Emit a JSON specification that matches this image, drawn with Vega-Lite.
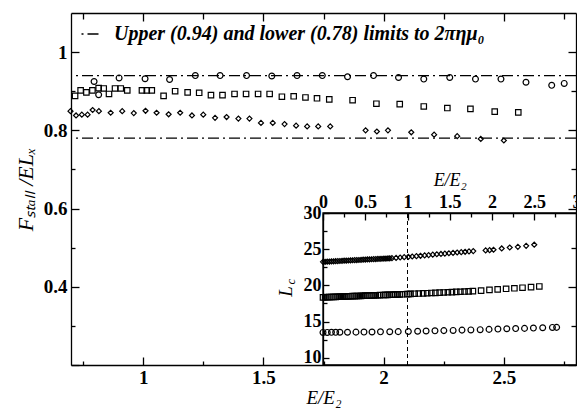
{
  "$schema": "https://vega.github.io/schema/vega-lite/v6.json",
  "width": 505,
  "height": 352,
  "autosize": {"type": "none"},
  "padding": {"left": 71, "top": 13, "right": 1, "bottom": 44},
  "background": "white",
  "config": {"view": {"stroke": null}, "font": "Liberation Serif"},
  "datasets": {
    "limits": [
      {"F": 0.94, "lab": "Upper (0.94) and lower (0.78) limits to 2πημ₀"},
      {"F": 0.78, "lab": "Upper (0.94) and lower (0.78) limits to 2πημ₀"}
    ],
    "frame": [{"x0": 0, "x1": 3, "y0": 9, "y1": 30, "xm": 1}],
    "main": [
      {"E": 0.796, "F": 0.925, "s": "c"}, {"E": 0.815, "F": 0.891, "s": "c"}, {"E": 0.9, "F": 0.934, "s": "c"},
      {"E": 1.008, "F": 0.932, "s": "c"}, {"E": 1.11, "F": 0.93, "s": "c"}, {"E": 1.217, "F": 0.94, "s": "c"},
      {"E": 1.32, "F": 0.94, "s": "c"}, {"E": 1.43, "F": 0.94, "s": "c"}, {"E": 1.535, "F": 0.939, "s": "c"},
      {"E": 1.64, "F": 0.94, "s": "c"}, {"E": 1.745, "F": 0.94, "s": "c"}, {"E": 1.85, "F": 0.937, "s": "c"},
      {"E": 1.958, "F": 0.94, "s": "c"}, {"E": 2.062, "F": 0.935, "s": "c"}, {"E": 2.167, "F": 0.931, "s": "c"},
      {"E": 2.275, "F": 0.935, "s": "c"}, {"E": 2.382, "F": 0.931, "s": "c"}, {"E": 2.488, "F": 0.931, "s": "c"},
      {"E": 2.592, "F": 0.923, "s": "c"}, {"E": 2.699, "F": 0.915, "s": "c"}, {"E": 2.751, "F": 0.92, "s": "c"},
      {"E": 0.717, "F": 0.888, "s": "s"}, {"E": 0.74, "F": 0.902, "s": "s"}, {"E": 0.764, "F": 0.897, "s": "s"},
      {"E": 0.789, "F": 0.902, "s": "s"}, {"E": 0.815, "F": 0.908, "s": "s"}, {"E": 0.836, "F": 0.907, "s": "s"},
      {"E": 0.858, "F": 0.893, "s": "s"}, {"E": 0.883, "F": 0.907, "s": "s"}, {"E": 0.907, "F": 0.907, "s": "s"},
      {"E": 0.934, "F": 0.902, "s": "s"}, {"E": 0.995, "F": 0.902, "s": "s"}, {"E": 1.015, "F": 0.902, "s": "s"},
      {"E": 1.036, "F": 0.902, "s": "s"}, {"E": 1.085, "F": 0.888, "s": "s"}, {"E": 1.133, "F": 0.9, "s": "s"},
      {"E": 1.185, "F": 0.897, "s": "s"}, {"E": 1.233, "F": 0.896, "s": "s"}, {"E": 1.282, "F": 0.89, "s": "s"},
      {"E": 1.33, "F": 0.89, "s": "s"}, {"E": 1.38, "F": 0.893, "s": "s"}, {"E": 1.428, "F": 0.893, "s": "s"},
      {"E": 1.478, "F": 0.893, "s": "s"}, {"E": 1.526, "F": 0.893, "s": "s"}, {"E": 1.577, "F": 0.886, "s": "s"},
      {"E": 1.626, "F": 0.887, "s": "s"}, {"E": 1.675, "F": 0.884, "s": "s"}, {"E": 1.723, "F": 0.882, "s": "s"},
      {"E": 1.774, "F": 0.879, "s": "s"}, {"E": 1.871, "F": 0.877, "s": "s"}, {"E": 1.97, "F": 0.868, "s": "s"},
      {"E": 2.067, "F": 0.867, "s": "s"}, {"E": 2.167, "F": 0.861, "s": "s"}, {"E": 2.265, "F": 0.857, "s": "s"},
      {"E": 2.361, "F": 0.855, "s": "s"}, {"E": 2.462, "F": 0.848, "s": "s"}, {"E": 2.56, "F": 0.846, "s": "s"},
      {"E": 0.698, "F": 0.849, "s": "d"}, {"E": 0.721, "F": 0.838, "s": "d"}, {"E": 0.745, "F": 0.84, "s": "d"},
      {"E": 0.769, "F": 0.84, "s": "d"}, {"E": 0.79, "F": 0.852, "s": "d"}, {"E": 0.816, "F": 0.849, "s": "d"},
      {"E": 0.865, "F": 0.845, "s": "d"}, {"E": 0.913, "F": 0.849, "s": "d"}, {"E": 0.961, "F": 0.844, "s": "d"},
      {"E": 1.01, "F": 0.85, "s": "d"}, {"E": 1.056, "F": 0.845, "s": "d"}, {"E": 1.106, "F": 0.841, "s": "d"},
      {"E": 1.154, "F": 0.845, "s": "d"}, {"E": 1.203, "F": 0.838, "s": "d"}, {"E": 1.25, "F": 0.84, "s": "d"},
      {"E": 1.299, "F": 0.832, "s": "d"}, {"E": 1.347, "F": 0.834, "s": "d"}, {"E": 1.396, "F": 0.83, "s": "d"},
      {"E": 1.442, "F": 0.83, "s": "d"}, {"E": 1.49, "F": 0.819, "s": "d"}, {"E": 1.539, "F": 0.819, "s": "d"},
      {"E": 1.588, "F": 0.816, "s": "d"}, {"E": 1.636, "F": 0.812, "s": "d"}, {"E": 1.682, "F": 0.81, "s": "d"},
      {"E": 1.728, "F": 0.81, "s": "d"}, {"E": 1.778, "F": 0.81, "s": "d"}, {"E": 1.925, "F": 0.8, "s": "d"},
      {"E": 1.972, "F": 0.797, "s": "d"}, {"E": 2.018, "F": 0.8, "s": "d"}, {"E": 2.115, "F": 0.795, "s": "d"},
      {"E": 2.21, "F": 0.789, "s": "d"}, {"E": 2.306, "F": 0.785, "s": "d"}, {"E": 2.404, "F": 0.778, "s": "d"},
      {"E": 2.5, "F": 0.774, "s": "d"}
    ],
    "inset": [
      {"E": 0, "L": 13.5, "s": "c"}, {"E": 0.05, "L": 13.5, "s": "c"}, {"E": 0.1, "L": 13.51, "s": "c"},
      {"E": 0.15, "L": 13.51, "s": "c"}, {"E": 0.2, "L": 13.52, "s": "c"}, {"E": 0.29, "L": 13.53, "s": "c"},
      {"E": 0.39, "L": 13.54, "s": "c"}, {"E": 0.485, "L": 13.55, "s": "c"}, {"E": 0.58, "L": 13.56, "s": "c"},
      {"E": 0.68, "L": 13.58, "s": "c"}, {"E": 0.79, "L": 13.6, "s": "c"}, {"E": 0.89, "L": 13.61, "s": "c"},
      {"E": 1.01, "L": 13.63, "s": "c"}, {"E": 1.12, "L": 13.66, "s": "c"}, {"E": 1.22, "L": 13.69, "s": "c"},
      {"E": 1.325, "L": 13.72, "s": "c"}, {"E": 1.43, "L": 13.75, "s": "c"}, {"E": 1.54, "L": 13.78, "s": "c"},
      {"E": 1.645, "L": 13.82, "s": "c"}, {"E": 1.75, "L": 13.85, "s": "c"}, {"E": 1.86, "L": 13.88, "s": "c"},
      {"E": 1.965, "L": 13.92, "s": "c"}, {"E": 2.07, "L": 13.96, "s": "c"}, {"E": 2.175, "L": 14.0, "s": "c"},
      {"E": 2.28, "L": 14.03, "s": "c"}, {"E": 2.385, "L": 14.06, "s": "c"}, {"E": 2.49, "L": 14.1, "s": "c"},
      {"E": 2.6, "L": 14.14, "s": "c"}, {"E": 2.715, "L": 14.19, "s": "c"}, {"E": 2.765, "L": 14.2, "s": "c"},
      {"E": 0, "L": 18.35, "s": "s"}, {"E": 0.025, "L": 18.36, "s": "s"}, {"E": 0.05, "L": 18.37, "s": "s"},
      {"E": 0.075, "L": 18.38, "s": "s"}, {"E": 0.1, "L": 18.4, "s": "s"}, {"E": 0.125, "L": 18.41, "s": "s"},
      {"E": 0.15, "L": 18.42, "s": "s"}, {"E": 0.175, "L": 18.43, "s": "s"}, {"E": 0.2, "L": 18.44, "s": "s"},
      {"E": 0.225, "L": 18.45, "s": "s"}, {"E": 0.25, "L": 18.46, "s": "s"}, {"E": 0.275, "L": 18.47, "s": "s"},
      {"E": 0.3, "L": 18.49, "s": "s"}, {"E": 0.325, "L": 18.5, "s": "s"}, {"E": 0.35, "L": 18.51, "s": "s"},
      {"E": 0.375, "L": 18.52, "s": "s"}, {"E": 0.4, "L": 18.53, "s": "s"}, {"E": 0.425, "L": 18.54, "s": "s"},
      {"E": 0.45, "L": 18.55, "s": "s"}, {"E": 0.475, "L": 18.56, "s": "s"}, {"E": 0.5, "L": 18.58, "s": "s"},
      {"E": 0.525, "L": 18.59, "s": "s"}, {"E": 0.55, "L": 18.6, "s": "s"}, {"E": 0.575, "L": 18.61, "s": "s"},
      {"E": 0.6, "L": 18.62, "s": "s"}, {"E": 0.625, "L": 18.63, "s": "s"}, {"E": 0.65, "L": 18.64, "s": "s"},
      {"E": 0.675, "L": 18.65, "s": "s"}, {"E": 0.717, "L": 18.67, "s": "s"}, {"E": 0.74, "L": 18.68, "s": "s"},
      {"E": 0.764, "L": 18.69, "s": "s"}, {"E": 0.789, "L": 18.7, "s": "s"}, {"E": 0.815, "L": 18.71, "s": "s"},
      {"E": 0.836, "L": 18.72, "s": "s"}, {"E": 0.858, "L": 18.73, "s": "s"}, {"E": 0.883, "L": 18.75, "s": "s"},
      {"E": 0.907, "L": 18.76, "s": "s"}, {"E": 0.934, "L": 18.77, "s": "s"}, {"E": 0.995, "L": 18.8, "s": "s"},
      {"E": 1.015, "L": 18.81, "s": "s"}, {"E": 1.036, "L": 18.82, "s": "s"}, {"E": 1.085, "L": 18.85, "s": "s"},
      {"E": 1.133, "L": 18.87, "s": "s"}, {"E": 1.185, "L": 18.9, "s": "s"}, {"E": 1.233, "L": 18.92, "s": "s"},
      {"E": 1.282, "L": 18.95, "s": "s"}, {"E": 1.33, "L": 18.97, "s": "s"}, {"E": 1.38, "L": 19.0, "s": "s"},
      {"E": 1.428, "L": 19.02, "s": "s"}, {"E": 1.478, "L": 19.05, "s": "s"}, {"E": 1.526, "L": 19.07, "s": "s"},
      {"E": 1.577, "L": 19.1, "s": "s"}, {"E": 1.626, "L": 19.12, "s": "s"}, {"E": 1.675, "L": 19.15, "s": "s"},
      {"E": 1.723, "L": 19.17, "s": "s"}, {"E": 1.774, "L": 19.2, "s": "s"}, {"E": 1.871, "L": 19.28, "s": "s"},
      {"E": 1.97, "L": 19.38, "s": "s"}, {"E": 2.067, "L": 19.45, "s": "s"}, {"E": 2.167, "L": 19.53, "s": "s"},
      {"E": 2.265, "L": 19.6, "s": "s"}, {"E": 2.361, "L": 19.68, "s": "s"}, {"E": 2.462, "L": 19.76, "s": "s"},
      {"E": 2.56, "L": 19.85, "s": "s"},
      {"E": 0, "L": 23.25, "s": "d"}, {"E": 0.025, "L": 23.26, "s": "d"}, {"E": 0.05, "L": 23.28, "s": "d"},
      {"E": 0.075, "L": 23.29, "s": "d"}, {"E": 0.1, "L": 23.31, "s": "d"}, {"E": 0.125, "L": 23.33, "s": "d"},
      {"E": 0.15, "L": 23.34, "s": "d"}, {"E": 0.175, "L": 23.36, "s": "d"}, {"E": 0.2, "L": 23.37, "s": "d"},
      {"E": 0.225, "L": 23.39, "s": "d"}, {"E": 0.25, "L": 23.41, "s": "d"}, {"E": 0.275, "L": 23.42, "s": "d"},
      {"E": 0.3, "L": 23.44, "s": "d"}, {"E": 0.325, "L": 23.45, "s": "d"}, {"E": 0.35, "L": 23.47, "s": "d"},
      {"E": 0.375, "L": 23.48, "s": "d"}, {"E": 0.4, "L": 23.5, "s": "d"}, {"E": 0.425, "L": 23.51, "s": "d"},
      {"E": 0.45, "L": 23.53, "s": "d"}, {"E": 0.475, "L": 23.55, "s": "d"}, {"E": 0.5, "L": 23.56, "s": "d"},
      {"E": 0.525, "L": 23.58, "s": "d"}, {"E": 0.55, "L": 23.59, "s": "d"}, {"E": 0.575, "L": 23.61, "s": "d"},
      {"E": 0.6, "L": 23.62, "s": "d"}, {"E": 0.625, "L": 23.64, "s": "d"}, {"E": 0.65, "L": 23.65, "s": "d"},
      {"E": 0.675, "L": 23.67, "s": "d"}, {"E": 0.698, "L": 23.68, "s": "d"}, {"E": 0.721, "L": 23.7, "s": "d"},
      {"E": 0.745, "L": 23.71, "s": "d"}, {"E": 0.769, "L": 23.73, "s": "d"}, {"E": 0.79, "L": 23.74, "s": "d"},
      {"E": 0.816, "L": 23.76, "s": "d"}, {"E": 0.865, "L": 23.8, "s": "d"}, {"E": 0.913, "L": 23.85, "s": "d"},
      {"E": 0.961, "L": 23.9, "s": "d"}, {"E": 1.01, "L": 23.94, "s": "d"}, {"E": 1.056, "L": 23.99, "s": "d"},
      {"E": 1.106, "L": 24.04, "s": "d"}, {"E": 1.154, "L": 24.09, "s": "d"}, {"E": 1.203, "L": 24.14, "s": "d"},
      {"E": 1.25, "L": 24.19, "s": "d"}, {"E": 1.299, "L": 24.24, "s": "d"}, {"E": 1.347, "L": 24.3, "s": "d"},
      {"E": 1.396, "L": 24.34, "s": "d"}, {"E": 1.442, "L": 24.39, "s": "d"}, {"E": 1.49, "L": 24.44, "s": "d"},
      {"E": 1.539, "L": 24.49, "s": "d"}, {"E": 1.588, "L": 24.54, "s": "d"}, {"E": 1.636, "L": 24.59, "s": "d"},
      {"E": 1.682, "L": 24.64, "s": "d"}, {"E": 1.728, "L": 24.69, "s": "d"}, {"E": 1.778, "L": 24.74, "s": "d"},
      {"E": 1.925, "L": 24.83, "s": "d"}, {"E": 1.972, "L": 24.87, "s": "d"}, {"E": 2.018, "L": 24.92, "s": "d"},
      {"E": 2.115, "L": 25.1, "s": "d"}, {"E": 2.21, "L": 25.23, "s": "d"}, {"E": 2.306, "L": 25.32, "s": "d"},
      {"E": 2.404, "L": 25.46, "s": "d"}, {"E": 2.5, "L": 25.62, "s": "d"}
    ]
  },
  "layer": [
    {
      "layer": [
        {
          "data": {"name": "limits"},
          "mark": {"type": "rule", "stroke": "black", "strokeWidth": 1.3},
          "encoding": {
            "y": {
              "field": "F", "type": "quantitative",
              "scale": {"domain": [0.2, 1.1], "nice": false, "zero": false},
              "axis": {
                "orient": "left", "zindex": 1, "grid": false,
                "values": [0.2, 0.3, 0.4, 0.5, 0.6, 0.7, 0.8, 0.9, 1.0],
                "labelExpr": "(abs(datum.value*5 - round(datum.value*5)) < 0.01 && datum.value > 0.3) ? format(datum.value, '~g') : ''",
                "tickSize": {"condition": {"test": "abs(datum.value*5 - round(datum.value*5)) < 0.01", "value": -8}, "value": -4},
                "labelPadding": 12, "labelOverlap": false, "labelFlush": false,
                "domainColor": "black", "domainWidth": 1.3, "tickColor": "black", "tickWidth": 1.3,
                "labelFont": "Liberation Serif", "labelFontWeight": "bold", "labelFontSize": 19, "labelColor": "black",
                "title": "Fₛₜₐₗₗ /ELₓ", "titleFont": "Liberation Serif", "titleFontStyle": "italic", "titleFontWeight": "normal",
                "titleFontSize": 22, "titleColor": "black", "titlePadding": 6
              }
            },
            "strokeDash": {
              "field": "lab", "type": "nominal",
              "scale": {"range": [[11, 4, 2, 4]]},
              "legend": {
                "orient": "none", "legendX": 9, "legendY": 11, "title": null, "padding": 0,
                "symbolType": "stroke", "symbolSize": 289, "symbolStrokeWidth": 1.5, "symbolStrokeColor": "black",
                "symbolDashOffset": 15,
                "labelFont": "Liberation Serif", "labelFontStyle": "italic", "labelFontWeight": "bold",
                "labelFontSize": 20, "labelColor": "black", "labelLimit": 600, "labelOffset": 14
              }
            }
          }
        },
        {
          "data": {"name": "main"},
          "mark": {"type": "point", "filled": false, "stroke": "black", "strokeWidth": 1.2, "opacity": 1},
          "encoding": {
            "x": {
              "field": "E", "type": "quantitative",
              "scale": {"domain": [0.7, 2.8], "nice": false, "zero": false},
              "axis": {
                "orient": "bottom", "zindex": 1, "grid": false,
                "values": [0.75, 1, 1.25, 1.5, 1.75, 2, 2.25, 2.5, 2.75],
                "labelExpr": "abs(datum.value*2 - round(datum.value*2)) < 0.01 ? format(datum.value, '~g') : ''",
                "tickSize": {"condition": {"test": "abs(datum.value*2 - round(datum.value*2)) < 0.01", "value": -8}, "value": -4},
                "labelPadding": 11, "labelOverlap": false, "labelFlush": false,
                "domainColor": "black", "domainWidth": 1.3, "tickColor": "black", "tickWidth": 1.3,
                "labelFont": "Liberation Serif", "labelFontWeight": "bold", "labelFontSize": 19, "labelColor": "black",
                "title": "E/E₂", "titleFont": "Liberation Serif", "titleFontStyle": "italic", "titleFontWeight": "normal",
                "titleFontSize": 19, "titleColor": "black", "titlePadding": -3
              }
            },
            "y": {"field": "F", "type": "quantitative"},
            "shape": {"field": "s", "type": "nominal", "scale": {"domain": ["c", "s", "d"], "range": ["circle", "square", "diamond"]}, "legend": null},
            "size": {"field": "s", "type": "ordinal", "scale": {"domain": ["c", "s", "d"], "range": [34, 25, 34]}, "legend": null}
          }
        }
      ]
    },
    {
      "data": {"name": "limits"},
      "mark": {"type": "point", "opacity": 0},
      "encoding": {
        "x": {
          "datum": 1, "type": "quantitative",
          "scale": {"domain": [0.7, 2.8], "nice": false, "zero": false},
          "axis": {
            "orient": "top", "zindex": 1, "grid": false, "labels": false, "title": null,
            "values": [0.75, 1, 1.25, 1.5, 1.75, 2, 2.25, 2.5, 2.75],
            "tickSize": {"condition": {"test": "abs(datum.value*2 - round(datum.value*2)) < 0.01", "value": -8}, "value": -6},
            "domainColor": "black", "domainWidth": 1.3, "tickColor": "black", "tickWidth": 1.3
          }
        },
        "y": {
          "datum": 1, "type": "quantitative",
          "scale": {"domain": [0.2, 1.1], "nice": false, "zero": false},
          "axis": {
            "orient": "right", "zindex": 1, "grid": false, "labels": false, "title": null,
            "values": [0.2, 0.3, 0.4, 0.5, 0.6, 0.7, 0.8, 0.9, 1.0],
            "tickSize": {"condition": {"test": "abs(datum.value*5 - round(datum.value*5)) < 0.01", "value": -8}, "value": -5},
            "domainColor": "black", "domainWidth": 1.3, "tickColor": "black", "tickWidth": 1.3
          }
        }
      }
    },
    {
      "layer": [
        {
          "data": {"name": "frame"},
          "mark": {"type": "rect", "fill": "white", "stroke": "black", "strokeWidth": 1.3},
          "encoding": {
            "x": {
              "field": "x0", "type": "quantitative",
              "scale": {"domain": [0, 3], "range": [252, 505.5], "nice": false, "zero": false},
              "axis": {
                "orient": "top", "offset": -200, "zindex": 1, "grid": false,
                "values": [0, 0.25, 0.5, 0.75, 1, 1.25, 1.5, 1.75, 2, 2.25, 2.5, 2.75, 3],
                "labelExpr": "abs(datum.value*2 - round(datum.value*2)) < 0.01 ? format(datum.value, '~g') : ''",
                "tickSize": {"condition": {"test": "abs(datum.value*2 - round(datum.value*2)) < 0.01", "value": -7}, "value": -4},
                "labelPadding": 9, "labelOverlap": false, "labelFlush": false,
                "domainColor": "black", "domainWidth": 1.3, "tickColor": "black", "tickWidth": 1.3,
                "labelFont": "Liberation Serif", "labelFontWeight": "bold", "labelFontSize": 18, "labelColor": "black",
                "title": "E/E₂", "titleFont": "Liberation Serif", "titleFontStyle": "italic", "titleFontWeight": "normal",
                "titleFontSize": 18, "titleColor": "black", "titlePadding": 1
              }
            },
            "x2": {"field": "x1"},
            "y": {
              "field": "y0", "type": "quantitative",
              "scale": {"domain": [9, 30], "range": [352, 200], "nice": false, "zero": false},
              "axis": {
                "orient": "left", "offset": -252, "zindex": 1, "grid": false,
                "values": [10, 12.5, 15, 17.5, 20, 22.5, 25, 27.5, 30],
                "labelExpr": "abs(datum.value/5 - round(datum.value/5)) < 0.01 ? format(datum.value, '~g') : ''",
                "tickSize": {"condition": {"test": "abs(datum.value/5 - round(datum.value/5)) < 0.01", "value": -6}, "value": -4},
                "labelPadding": 8, "labelOverlap": false, "labelFlush": false,
                "domainColor": "black", "domainWidth": 1.3, "tickColor": "black", "tickWidth": 1.3,
                "labelFont": "Liberation Serif", "labelFontWeight": "bold", "labelFontSize": 18, "labelColor": "black",
                "title": "L", "titleFont": "Liberation Serif", "titleFontStyle": "italic", "titleFontWeight": "normal",
                "titleFontSize": 19, "titleColor": "black", "titleX": -38, "titleY": 278, "titleBaseline": "middle", "titleAlign": "center", "titleAngle": 270
              }
            },
            "y2": {"field": "y1"}
          }
        },
        {
          "data": {"name": "frame"},
          "mark": {"type": "rule", "stroke": "black", "strokeWidth": 1, "strokeDash": [4, 3]},
          "encoding": {
            "x": {"field": "xm", "type": "quantitative"},
            "y": {"field": "y0", "type": "quantitative"},
            "y2": {"field": "y1"}
          }
        },
        {
          "data": {"name": "inset"},
          "mark": {"type": "point", "filled": false, "stroke": "black", "strokeWidth": 1.2, "opacity": 1},
          "encoding": {
            "x": {"field": "E", "type": "quantitative"},
            "y": {"field": "L", "type": "quantitative"},
            "shape": {"field": "s", "type": "nominal", "legend": null},
            "size": {"field": "s", "type": "ordinal", "legend": null}
          }
        }
      ]
    },
    {
      "data": {"name": "frame"},
      "mark": {"type": "point", "opacity": 0},
      "encoding": {
        "x": {"datum": 1, "type": "quantitative", "scale": {"domain": [0, 3], "range": [252, 505.5]}, "axis": null},
        "y": {
          "datum": 20, "type": "quantitative",
          "scale": {"domain": [9, 30], "range": [352, 200], "nice": false, "zero": false},
          "axis": {
            "orient": "left", "offset": -252, "domain": false, "ticks": false, "labels": false, "grid": false,
            "title": "c", "titleFont": "Liberation Serif", "titleFontStyle": "italic", "titleFontWeight": "normal",
            "titleFontSize": 13, "titleColor": "black", "titleX": -33, "titleY": 268, "titleBaseline": "middle", "titleAlign": "center", "titleAngle": 270
          }
        }
      }
    }
  ],
  "resolve": {"scale": {"x": "independent", "y": "independent"}}
}
